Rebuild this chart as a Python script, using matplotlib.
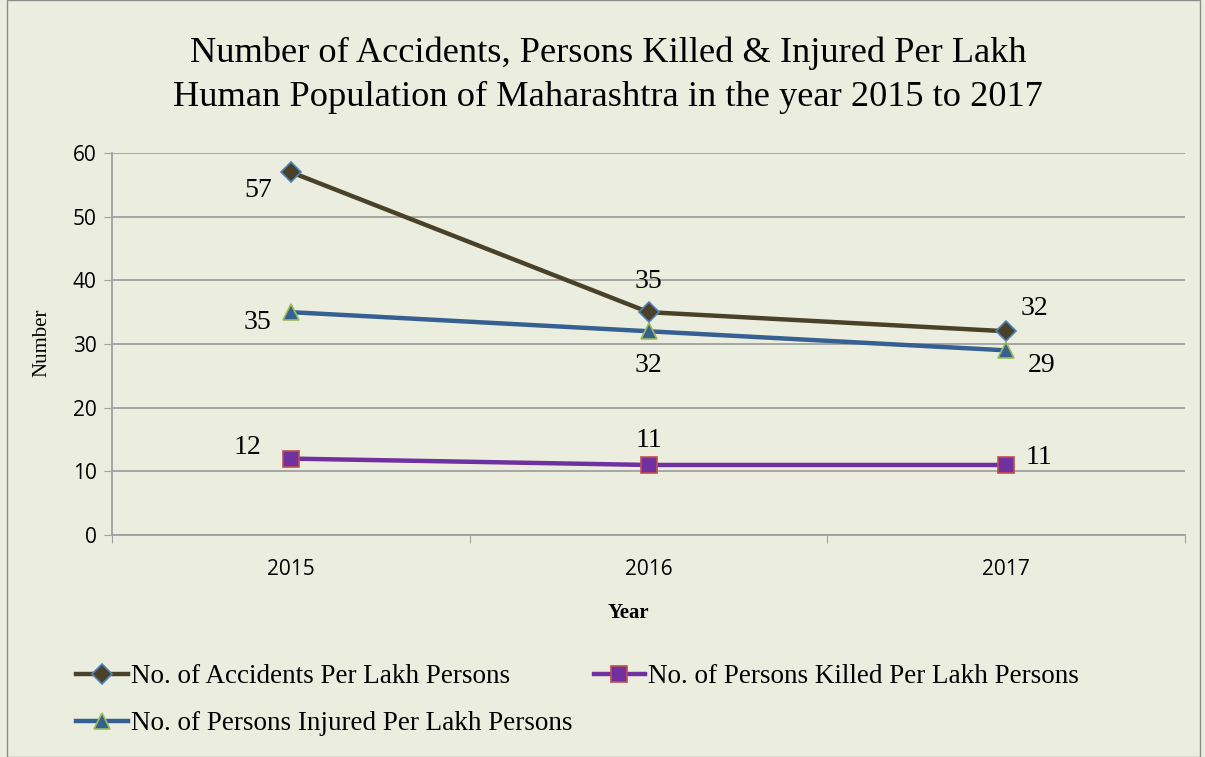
import matplotlib.pyplot as plt
from matplotlib.patches import Rectangle

years = ['2015', '2016', '2017']
accidents = [57, 35, 32]
injured = [35, 32, 29]
killed = [12, 11, 11]

# label offsets in pixels from each point
acc_off = [(-33, -18), (0, 31), (28, 23)]
inj_off = [(-33, -10), (0, -34), (35, -15)]
kil_off = [(-43, 11), (0, 24), (33, 7)]

bg = '#EBEEDF'
serif = 'Liberation Serif'

fig = plt.figure(figsize=(12.05, 7.57), dpi=100, facecolor=bg)
ax = fig.add_axes([112 / 1205, 1 - 535 / 757, 1073 / 1205, 382 / 757])
ax.set_facecolor(bg)

x = range(len(years))
series = [
    (accidents, 'No. of Accidents Per Lakh Persons', '#4A4228', 'D', '#4F81BD', 10.5, acc_off),
    (injured, 'No. of Persons Injured Per Lakh Persons', '#376092', '^', '#9BBB59', 12, inj_off),
    (killed, 'No. of Persons Killed Per Lakh Persons', '#7030A0', 's', '#C0504D', 12, kil_off),
]
handles = []
for vals, label, col, mk, edge, ms, offs in series:
    h, = ax.plot(x, vals, color=col, lw=3.2, marker=mk, markersize=ms,
                 markerfacecolor=col, markeredgecolor=edge, markeredgewidth=1.2,
                 label=label, zorder=3)
    handles.append(h)
    for xi, v, (dx, dy) in zip(x, vals, offs):
        ax.annotate(str(v), (xi, v), xytext=(dx, dy), textcoords='offset pixels',
                    ha='center', va='center', fontsize=20, family=serif)

ax.set_xlim(-0.5, 2.5)
ax.set_ylim(0, 60)
ax.set_yticks(range(0, 61, 10))
ax.set_xticks([-0.5, 0.5, 1.5, 2.5])
ax.set_xticklabels([])
ax.set_xticks(list(x), minor=True)
ax.set_xticklabels(years, minor=True, fontsize=15, family='Open Sans')
ax.tick_params(axis='x', which='minor', length=0, pad=17)
ax.tick_params(axis='x', which='major', length=6, color='#A0A0A0')
ax.tick_params(axis='y', length=6, color='#A0A0A0', labelsize=15, pad=5)
for t in ax.get_yticklabels():
    t.set_family('Open Sans')
ax.grid(axis='y', color='#A0A0A0', lw=1.3)
ax.set_axisbelow(True)
for s in ['top', 'right']:
    ax.spines[s].set_visible(False)
for s in ['left', 'bottom']:
    ax.spines[s].set_color('#A0A0A0')
    ax.spines[s].set_linewidth(1.3)

fig.text(628 / 1205, 1 - 613 / 757, 'Year', ha='center', va='center',
         fontsize=15, fontweight='bold', family=serif)
fig.text(42 / 1205, 1 - 343 / 757, 'Number', ha='center', va='center',
         rotation=90, fontsize=15, family=serif)
fig.text(608 / 1205, 1 - 75 / 757,
         'Number of Accidents, Persons Killed & Injured Per Lakh\n'
         'Human Population of Maharashtra in the year 2015 to 2017',
         ha='center', va='center', fontsize=26.2, family=serif, linespacing=1.45)

fig.legend(handles=handles, loc='upper left', bbox_to_anchor=(52 / 1205, 1 - 640 / 757),
           ncol=2, frameon=False, prop={'family': serif, 'size': 19.5},
           handlelength=1.9, handletextpad=0.1, columnspacing=0.8, labelspacing=0.8)

fig.patches.append(Rectangle((7 / 1205, 0), 1193 / 1205, 1, transform=fig.transFigure,
                             fill=False, edgecolor='#8C8C8C', lw=1))

fig.savefig('out.png', dpi=100, facecolor=bg)
